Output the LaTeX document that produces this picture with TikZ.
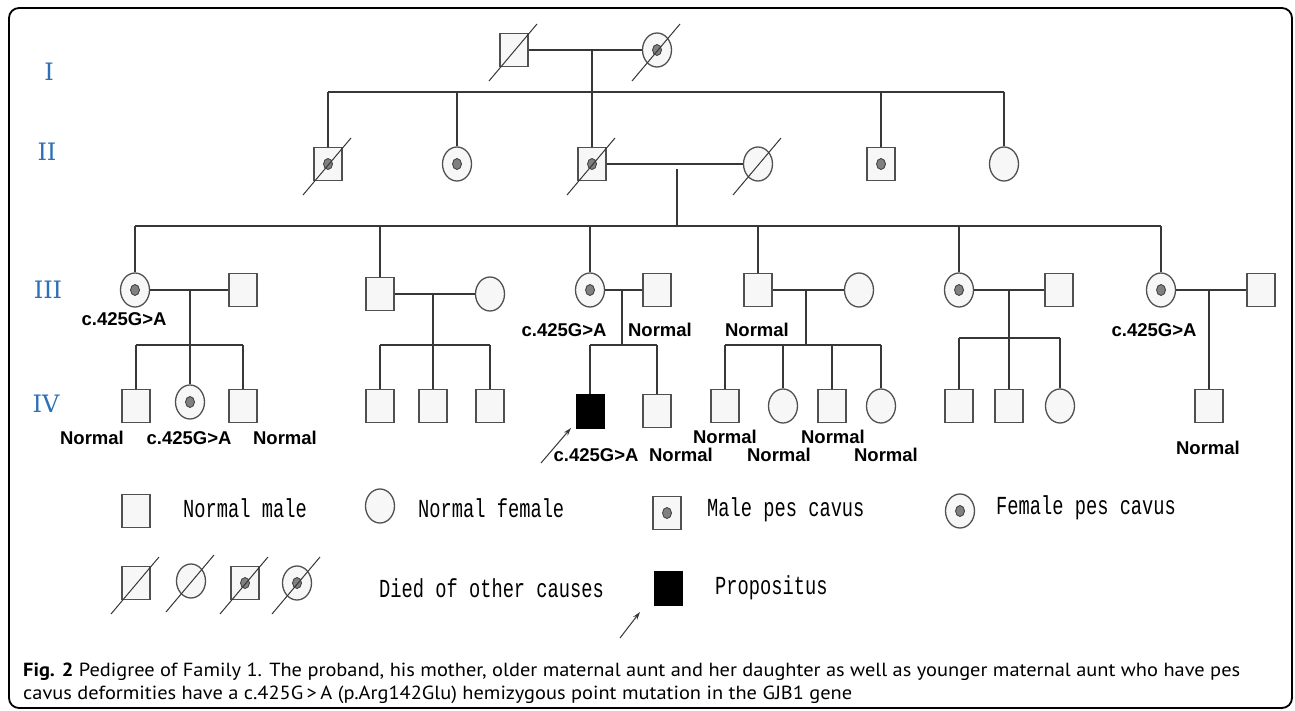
\documentclass[tikz,border=0pt]{standalone}
\usepackage{fontspec}
\usepackage{graphicx}
\setmainfont{Liberation Sans}
\newfontfamily\labfont{Liberation Sans}
\newfontfamily\genfont{DejaVu Serif}
\newfontfamily\legfont[FakeStretch=0.72]{Liberation Mono}
\newfontfamily\capfont{PT Sans}
\usetikzlibrary{shapes.geometric,arrows.meta,calc}
\definecolor{genblue}{RGB}{46,112,182}
\definecolor{symline}{RGB}{80,80,80}
\definecolor{symfill}{RGB}{247,247,247}
\definecolor{connc}{RGB}{55,55,55}
\definecolor{dotfill}{RGB}{128,128,128}
\definecolor{dotline}{RGB}{60,60,60}
\tikzset{
 sym/.style={draw=symline, fill=symfill, line width=1.3bp, inner sep=0pt},
 male/.style={sym, rectangle, minimum width=28bp, minimum height=33bp},
 female/.style={sym, ellipse, minimum width=29bp, minimum height=34bp},
 pes/.style={path picture={\fill[dotfill, draw=dotline, line width=0.8bp] (path picture bounding box.center) ellipse [x radius=4.5bp, y radius=5.5bp];}},
 propo/.style={rectangle, fill=black, draw=black, minimum width=28bp, minimum height=34bp, inner sep=0pt},
 conn/.style={draw=connc, line width=1.4bp},
 slashline/.style={draw=connc, line width=1bp},
 lab/.style={font=\labfont\bfseries\fontsize{18.5bp}{20bp}\selectfont, inner sep=0pt},
 gen/.style={font=\genfont\fontsize{24bp}{26bp}\selectfont, text=genblue, inner sep=0pt},
 leg/.style={font=\legfont\fontsize{26bp}{28bp}\selectfont, anchor=west, inner sep=0pt},
 capline/.style={anchor=base west, inner sep=0pt},
}
\newcommand\dslash[1]{\draw[slashline] ($(#1.center)+(-25,31)$) -- ($(#1.center)+(23,-26)$);}
\begin{document}
\begin{tikzpicture}[x=1bp,y=-1bp]
\useasboundingbox (0,0) rectangle (1295,711);
\fill[white] (0,0) rectangle (1295,711);
\draw[line width=1.8bp, rounded corners=10bp] (9,8) rectangle (1292,708);

% generation labels
\node[gen] (gI) at (49,72) {I};
\node[gen] (gII) at (47,152) {II};
\node[gen] (gIII) at (48,290) {III};
\node[gen] (gIV) at (46,404) {IV};

% ---------- generation I
\node[male] (I1) at (514,50) {};
\node[female,pes] (I2) at (657,50) {};
\dslash{I1}\dslash{I2}
\coordinate (cI) at (592,50);
\coordinate (sIl) at (328,92);
\coordinate (sIr) at (1004,92);
\coordinate (sIm) at (592,92);
\draw[conn] (I1.east) -- (I2.west);
\draw[conn] (cI) -- (sIm);
\draw[conn] (sIl) -- (sIr);

% ---------- generation II
\node[male,pes] (II1) at (328,164) {};
\node[female,pes] (II2) at (457,164) {};
\node[male,pes] (II3) at (592,164) {};
\node[female] (II3s) at (758,164) {};
\node[male,pes] (II4) at (881,164) {};
\node[female] (II5) at (1004,164) {};
\dslash{II1}\dslash{II3}\dslash{II3s}
\foreach \n/\x in {II1/328,II2/457,II4/881,II5/1004}{\draw[conn] (\x,92) -- (\n.north);}
\draw[conn] (sIm) -- (II3.north);
\draw[conn] (II3.east) -- (II3s.west);
\coordinate (cII) at (677,169);
\coordinate (sIIm) at (677,226);
\coordinate (sIIl) at (135,226);
\coordinate (sIIr) at (1161,226);
\draw[conn] (cII) -- (sIIm);
\draw[conn] (sIIl) -- (sIIr);

% ---------- generation III
\node[female,pes] (III1) at (135,290) {};
\node[male] (III1s) at (243,290) {};
\node[male] (III2) at (380,294) {};
\node[female] (III2s) at (490,294) {};
\node[female,pes] (III3) at (590,290) {};
\node[male] (III3s) at (657,290) {};
\node[male] (III4) at (758,290) {};
\node[female] (III4s) at (859,290) {};
\node[female,pes] (III5) at (959,290) {};
\node[male] (III5s) at (1059,290) {};
\node[female,pes] (III6) at (1161,290) {};
\node[male] (III6s) at (1261,290) {};
\foreach \n/\x in {III1/135,III2/380,III3/590,III4/758,III5/959,III6/1161}{\draw[conn] (\x,226) -- (\n.north);}
\foreach \a/\b in {III1/III1s,III2/III2s,III3/III3s,III4/III4s,III5/III5s,III6/III6s}{\draw[conn] (\a.east) -- (\b.west);}

% ---------- generation IV
\node[male] (IV1) at (136,406) {};
\node[female,pes] (IV2) at (190,402) {};
\node[male] (IV3) at (243,406) {};
\node[male] (IV4) at (380,406) {};
\node[male] (IV5) at (433,406) {};
\node[male] (IV6) at (490,406) {};
\node[propo] (IV7) at (590,411) {};
\node[male] (IV8) at (657,411) {};
\node[male] (IV9) at (725,406) {};
\node[female] (IV10) at (783,406) {};
\node[male] (IV11) at (832,406) {};
\node[female] (IV12) at (881,406) {};
\node[male] (IV13) at (959,406) {};
\node[male] (IV14) at (1009,406) {};
\node[female] (IV15) at (1060,406) {};
\node[male] (IV16) at (1209,406) {};

% family of III1
\coordinate (c1) at (190,290);
\draw[conn] (c1) -- (IV2.north);
\draw[conn] (136,345) -- (243,345);
\draw[conn] (136,345) -- (IV1.north);
\draw[conn] (243,345) -- (IV3.north);
% family of III2
\coordinate (c2) at (433,294);
\draw[conn] (c2) -- (IV5.north);
\draw[conn] (380,345) -- (490,345);
\draw[conn] (380,345) -- (IV4.north);
\draw[conn] (490,345) -- (IV6.north);
% family of III3
\coordinate (c3) at (622,290);
\coordinate (s3) at (622,345);
\draw[conn] (c3) -- (s3);
\draw[conn] (590,345) -- (657,345);
\draw[conn] (590,345) -- (IV7.north);
\draw[conn] (657,345) -- (IV8.north);
% family of III4
\coordinate (c4) at (806,290);
\coordinate (s4) at (806,345);
\draw[conn] (c4) -- (s4);
\draw[conn] (725,345) -- (881,345);
\foreach \n/\x in {IV9/725,IV10/783,IV11/832,IV12/881}{\draw[conn] (\x,345) -- (\n.north);}
% family of III5
\coordinate (c5) at (1009,290);
\draw[conn] (c5) -- (IV14.north);
\draw[conn] (959,338) -- (1060,338);
\draw[conn] (959,338) -- (IV13.north);
\draw[conn] (1060,338) -- (IV15.north);
% family of III6
\coordinate (c6) at (1209,290);
\draw[conn] (c6) -- (IV16.north);

% proband arrow
\coordinate (pa) at (541,463);
\coordinate (pb) at (571,428);
\draw[connc, line width=1bp, -{Stealth[length=8bp,width=5bp]}] (pa) -- (pb);

% genotype labels
\node[lab] (t1) at (124,319) {c.425G>A};
\node[lab] (t2) at (92,438) {Normal};
\node[lab] (t3) at (189,438) {c.425G>A};
\node[lab] (t4) at (285,438) {Normal};
\node[lab] (t5) at (564,330) {c.425G>A};
\node[lab] (t6) at (660,330) {Normal};
\node[lab] (t7) at (596,455) {c.425G>A};
\node[lab] (t8) at (681,455) {Normal};
\node[lab] (t9) at (757,330) {Normal};
\node[lab] (t10) at (725,437) {Normal};
\node[lab] (t11) at (779,455) {Normal};
\node[lab] (t12) at (833,437) {Normal};
\node[lab] (t13) at (886,455) {Normal};
\node[lab] (t14) at (1154,330) {c.425G>A};
\node[lab] (t15) at (1208,448) {Normal};

% ---------- legend
\node[male] (L1) at (136,511) {};
\node[leg] (L1t) at (183,508) {Normal male};
\node[female] (L2) at (380,506) {};
\node[leg] (L2t) at (418,508) {Normal female};
\node[male,pes] (L3) at (667,513) {};
\node[leg] (L3t) at (707,510) {Male pes cavus};
\node[female,pes] (L4) at (960,511) {};
\node[leg] (L4t) at (996,508) {Female pes cavus};

\node[male] (L5) at (136,583) {};
\node[female] (L6) at (191,581) {};
\node[male,pes] (L7) at (245,583) {};
\node[female,pes] (L8) at (297,583) {};
\dslash{L5}\dslash{L6}\dslash{L7}\dslash{L8}
\node[leg] (L8t) at (379,588) {Died of other causes};
\node[propo] (L9) at (668,588) {};
\node[leg] (L9t) at (715,588) {Propositus};
\coordinate (la) at (620,638);
\coordinate (lb) at (640,612);
\draw[connc, line width=1bp, -{Stealth[length=8bp,width=5bp]}] (la) -- (lb);

% ---------- caption
\node[capline] (cap1) at (23,676) {\resizebox{1217bp}{\height}{\capfont\fontsize{19bp}{22bp}\selectfont\textbf{Fig. 2} Pedigree of Family 1. The proband, his mother, older maternal aunt and her daughter as well as younger maternal aunt who have pes}};
\node[capline] (cap2) at (23,699) {\resizebox{829bp}{\height}{\capfont\fontsize{19bp}{22bp}\selectfont cavus deformities have a c.425G\,>\,A (p.Arg142Glu) hemizygous point mutation in the GJB1 gene}};
\end{tikzpicture}
\end{document}
